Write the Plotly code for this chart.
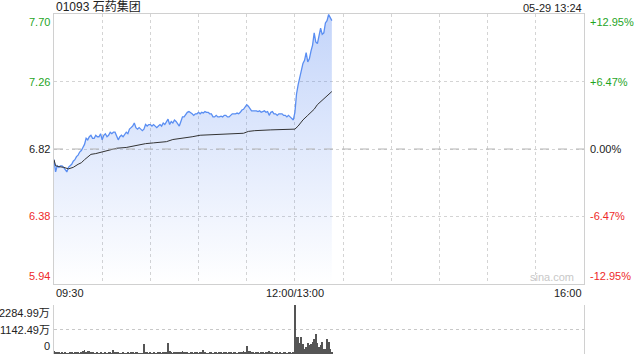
import plotly.graph_objects as go

# ---------------- data ----------------
title_text = "01093 石药集团"
stamp_text = "05-29 13:24"
prev_close = 6.82
price_ticks = [5.94, 6.38, 6.82, 7.26, 7.70]
price_tick_text = ["5.94", "6.38", "6.82", "7.26", "7.70"]
pct_tick_text = ["-12.95%", "-6.47%", "0.00%", "+6.47%", "+12.95%"]
vol_ticks = [0, 1142.49, 2284.99]
vol_tick_text = ["0", "1142.49万", "2284.99万"]
x_tick_pos = [0, 150, 330]
x_tick_text = ["09:30", "12:00/13:00", "16:00"]
grid_minutes = [30, 60, 90, 120, 150, 180, 210, 240, 270, 300]

price = [
    6.75, 6.67, 6.71, 6.70, 6.71, 6.71, 6.70, 6.68, 6.67, 6.70,
    6.71, 6.72, 6.74, 6.75, 6.77, 6.78, 6.80, 6.81, 6.83, 6.85,
    6.89, 6.88, 6.90, 6.91, 6.89, 6.89, 6.91, 6.90, 6.90, 6.92,
    6.88, 6.91, 6.92, 6.90, 6.91, 6.93, 6.92, 6.93, 6.93, 6.90,
    6.88, 6.90, 6.91, 6.90, 6.92, 6.93, 6.92, 6.95, 6.96, 6.97,
    6.99, 6.96, 6.95, 6.96, 6.95, 6.94, 6.95, 6.98, 6.97, 6.98,
    6.98, 6.97, 6.98, 6.97, 6.96, 6.97, 6.98, 6.97, 6.99, 6.98,
    7.00, 7.015, 6.98, 7.00, 6.99, 7.01, 7.00, 6.98, 6.97, 7.00,
    7.03, 7.03, 7.05, 7.06, 7.065, 7.06, 7.05, 7.04, 7.05, 7.05,
    7.06, 7.05, 7.06, 7.055, 7.065, 7.06, 7.06, 7.05, 7.05, 7.03,
    7.03, 7.04, 7.03, 7.03, 7.035, 7.03, 7.04, 7.04, 7.03, 7.03,
    7.04, 7.05, 7.05, 7.05, 7.055, 7.05, 7.06, 7.075, 7.08, 7.10,
    7.11, 7.10, 7.08, 7.07, 7.07, 7.07, 7.07, 7.065, 7.07, 7.06,
    7.065, 7.07, 7.06, 7.065, 7.04, 7.06, 7.065, 7.05, 7.05, 7.04,
    7.05, 7.05, 7.05, 7.04, 7.04, 7.03, 7.04, 7.03, 7.02, 7.01,
    7.06, 7.18, 7.24, 7.29, 7.33, 7.38, 7.40, 7.45, 7.39, 7.41,
    7.46, 7.50, 7.58, 7.52, 7.51, 7.56, 7.61, 7.57, 7.58, 7.645,
    7.66, 7.70, 7.68, 7.66,
]
minutes = list(range(len(price)))

avg_minutes = [0, 1, 3, 6, 9, 12, 15, 17, 19, 21, 23, 26, 30, 35, 39, 45, 50, 54,
               57, 62, 66, 70, 74, 80, 86, 91, 100, 110, 118, 121, 125, 135, 145,
               150, 152, 155, 158, 160, 162, 164, 166, 168, 170, 172, 173]
avg_price = [6.75, 6.71, 6.705, 6.70, 6.69, 6.70, 6.72, 6.73, 6.75, 6.77, 6.785,
             6.79, 6.80, 6.81, 6.825, 6.83, 6.84, 6.846, 6.855, 6.86, 6.863, 6.868,
             6.882, 6.89, 6.90, 6.91, 6.915, 6.92, 6.923, 6.935, 6.94, 6.945, 6.948,
             6.95, 6.97, 7.01, 7.04, 7.058, 7.08, 7.11, 7.13, 7.146, 7.17, 7.186, 7.196]

volume = [
    150, 110, 60, 55, 45, 50, 40, 70, 30, 45,
    60, 50, 40, 55, 60, 70, 40, 100, 130, 180,
    110, 140, 120, 60, 90, 40, 30, 50, 35, 60,
    40, 30, 50, 40, 55, 70, 40, 180, 90, 50,
    60, 40, 30, 50, 40, 35, 60, 40, 50, 70,
    40, 60, 50, 45, 30, 40, 460, 60, 90, 40,
    50, 35, 60, 40, 30, 50, 70, 40, 60, 50,
    80, 490, 120, 60, 40, 50, 90, 70, 100, 60,
    130, 110, 50, 70, 40, 60, 50, 40, 70, 60,
    40, 60, 110, 180, 70, 40, 30, 60, 50, 40,
    60, 50, 40, 70, 50, 40, 60, 50, 40, 50,
    60, 40, 50, 70, 40, 110, 60, 90, 130, 70,
    380, 120, 130, 60, 50, 40, 60, 50, 40, 60,
    50, 40, 60, 100, 120, 110, 70, 40, 50, 60,
    40, 50, 40, 60, 50, 40, 60, 50, 40, 60,
    2284.99, 800, 790, 530, 800, 460, 230, 330, 530, 420,
    460, 560, 710, 950, 500, 330, 400, 580, 250, 250,
    700, 560, 250, 50,
]

# ---------------- styles ----------------
FONT = "Liberation Sans, Arial, Noto Sans CJK SC, sans-serif"
GREEN = "#1fa51f"
RED = "#ee2a2a"
BLACK = "#222222"
GRID = "#d4d4d4"
FRAME = "#d0d0d0"
W, H = 640, 360
ml, mr, mt, mb = 54, 56, 14, 6
plot_h = H - mt - mb
main_bottom = (354 - 284) / plot_h
vol_top = (354 - 305) / plot_h

lim = prev_close * 0.1295
y_lo, y_hi = prev_close - lim, prev_close + lim

fig = go.Figure()

# baseline for gradient fill
fig.add_trace(go.Scatter(x=[minutes[0], minutes[-1]], y=[y_lo, y_lo], mode="lines",
                         line=dict(width=0, color="rgba(0,0,0,0)"), hoverinfo="skip",
                         showlegend=False, xaxis="x", yaxis="y"))
fig.add_trace(go.Scatter(x=minutes, y=price, mode="lines", fill="tonexty",
                         line=dict(color="#5a8ef2", width=1.3),
                         fillgradient=dict(type="vertical",
                                           colorscale=[[0, "rgba(80,130,240,0.0)"],
                                                       [1, "rgba(80,130,240,0.34)"]],
                                           start=y_lo, stop=y_hi),
                         showlegend=False, xaxis="x", yaxis="y"))
fig.add_trace(go.Scatter(x=avg_minutes, y=avg_price, mode="lines",
                         line=dict(color="#333333", width=1),
                         showlegend=False, xaxis="x", yaxis="y"))
fig.add_trace(go.Bar(x=minutes, y=volume, marker=dict(color="#555555", line=dict(width=0)),
                     width=0.6, showlegend=False, xaxis="x2", yaxis="y2"))

fig.update_layout(
    width=W, height=H, margin=dict(l=ml, r=mr, t=mt, b=mb),
    paper_bgcolor="white", plot_bgcolor="white",
    font=dict(family=FONT, size=11, color=BLACK),
    bargap=0,
    xaxis=dict(domain=[0, 1], range=[0, 330], anchor="y", tickvals=grid_minutes,
               showticklabels=False, showgrid=True, gridcolor=GRID, griddash="dot",
               gridwidth=1, zeroline=False, showline=True, linecolor=FRAME, mirror=True,
               ticks=""),
    yaxis=dict(domain=[main_bottom, 1], range=[y_lo, y_hi], anchor="x",
               tickvals=price_ticks, showticklabels=False, showgrid=True,
               gridcolor=GRID, griddash="dot", zeroline=False, showline=True,
               linecolor=FRAME, mirror=True, ticks=""),
    xaxis2=dict(domain=[0, 1], range=[0, 330], anchor="y2", showticklabels=False,
                showgrid=False, zeroline=False, showline=False, ticks=""),
    yaxis2=dict(domain=[0, vol_top], range=[0, vol_ticks[-1]], anchor="x2",
                tickvals=vol_ticks, showticklabels=False, showgrid=True,
                gridcolor="#c8c8c8", griddash="dot", zeroline=False, showline=True,
                linecolor=FRAME, mirror=True, ticks=""),
)

# 0% reference line
fig.add_shape(type="line", xref="x", yref="y", x0=0, x1=330, y0=prev_close, y1=prev_close,
              line=dict(color="#b4b4b4", width=1, dash="dash"))

ann = []
n = len(price_ticks)
for i, (v, t, p) in enumerate(zip(price_ticks, price_tick_text, pct_tick_text)):
    col = RED if v < prev_close - 1e-9 else (GREEN if v > prev_close + 1e-9 else BLACK)
    ya = "bottom" if i == 0 else ("top" if i == n - 1 else "middle")
    ann.append(dict(xref="paper", yref="y", x=0, y=v, text=t, showarrow=False,
                    xanchor="right", yanchor=ya, xshift=-2, font=dict(color=col, size=11)))
    ann.append(dict(xref="paper", yref="y", x=1, y=v, text=p, showarrow=False,
                    xanchor="left", yanchor=ya, xshift=4, font=dict(color=col, size=11)))
for i, (v, t) in enumerate(zip(vol_ticks, vol_tick_text)):
    ya = "bottom" if i == 0 else ("top" if i == len(vol_ticks) - 1 else "middle")
    ann.append(dict(xref="paper", yref="y2", x=0, y=v, text=t, showarrow=False,
                    xanchor="right", yanchor=ya, xshift=-2, font=dict(color=BLACK, size=11)))
for i, (v, t) in enumerate(zip(x_tick_pos, x_tick_text)):
    xa = "left" if i == 0 else ("right" if i == len(x_tick_pos) - 1 else "center")
    ann.append(dict(xref="x", yref="paper", x=v, y=main_bottom, text=t, showarrow=False,
                    xanchor=xa, yanchor="top", yshift=-1, font=dict(color=BLACK, size=11)))
ann.append(dict(xref="paper", yref="paper", x=0, y=1, text=title_text, showarrow=False,
                xanchor="left", yanchor="bottom", yshift=-2, font=dict(color=BLACK, size=12)))
ann.append(dict(xref="paper", yref="paper", x=1, y=1, text=stamp_text, showarrow=False,
                xanchor="right", yanchor="bottom", yshift=-2, font=dict(color=BLACK, size=11)))
ann.append(dict(xref="paper", yref="y", x=0.94, y=y_lo, text="sina.com", showarrow=False,
                xanchor="center", yanchor="bottom", yshift=-1,
                font=dict(color="#c8c8c8", size=11)))
fig.update_layout(annotations=ann)

fig.write_html("out.html")
